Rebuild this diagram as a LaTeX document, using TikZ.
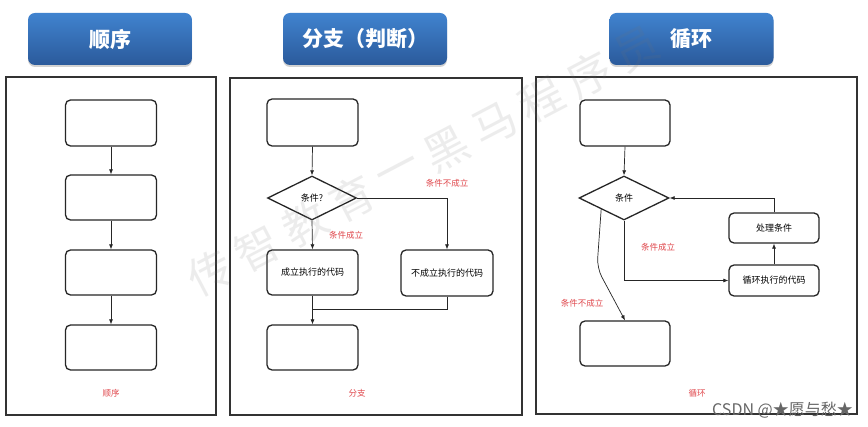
\documentclass[tikz,border=0pt]{standalone}
\usepackage{fontspec}
\setmainfont{Noto Sans CJK SC}
\usetikzlibrary{arrows.meta,shapes.geometric,shadows,calc}
\definecolor{hdrtop}{HTML}{4083CF}
\definecolor{hdrbot}{HTML}{2B5A9B}
\definecolor{lblred}{HTML}{E0474C}
\begin{document}
\begin{tikzpicture}[x=1pt,y=-1pt,
  hdr/.style={rounded corners=7pt, top color=hdrtop, bottom color=hdrbot, draw=none,
    text=white, font=\fontsize{21}{21}\selectfont\bfseries,
    minimum width=164pt, minimum height=52pt,
    drop shadow={shadow xshift=0pt, shadow yshift=-2pt, opacity=0.35}},
  panel/.style={draw=black!80, line width=1.1pt},
  blk/.style={draw=black!85, line width=1.3pt, rounded corners=5pt,
    minimum width=91pt, minimum height=46pt, inner sep=0pt,
    font=\fontsize{9}{9}\selectfont},
  cond/.style={diamond, draw=black!85, line width=1.3pt, aspect=2, inner sep=0pt,
    minimum width=89pt, minimum height=44pt, font=\fontsize{9}{9}\selectfont},
  arr/.style={draw=black!85, line width=0.7pt, -{Latex[length=5pt,width=4pt]}},
  ln/.style={draw=black!85, line width=0.7pt},
  lbl/.style={text=lblred, font=\fontsize{8.5}{8.5}\selectfont, inner sep=0pt},
  wm/.style={text=black!55, opacity=0.13, font=\fontsize{44}{44}\selectfont, inner sep=0pt}
]
\useasboundingbox (0,0) rectangle (868,427);
\fill[white] (0,0) rectangle (868,427);

% headers
\node[hdr] (h1) at (110,39) {顺序};
\node[hdr] (h2) at (365,39) {分支（判断）};
\node[hdr] (h3) at (691.5,39) {循环};

% panels
\draw[panel] (6,77) rectangle (216,415);
\draw[panel] (230,78) rectangle (522,415);
\draw[panel] (536,77) rectangle (857,414);

% ---- panel 1: sequence
\node[blk] (a1) at (111,123) {};
\node[blk, minimum height=45pt] (a2) at (111,197.5) {};
\node[blk, minimum height=45pt] (a3) at (111,272.5) {};
\node[blk, minimum height=45pt] (a4) at (111,347.5) {};
\draw[arr] (a1) -- (a2);
\draw[arr] (a2) -- (a3);
\draw[arr] (a3) -- (a4);
\node[lbl] (l1) at (111,393) {顺序};

% ---- panel 2: branch
\node[blk, minimum height=47pt] (t2) at (312.5,122.5) {};
\node[cond] (d2) at (312,198) {条件?};
\node[blk, minimum height=45pt] (y2) at (312.5,272.5) {成立执行的代码};
\node[blk, minimum width=92pt] (n2) at (447,273) {不成立执行的代码};
\node[blk, minimum height=45pt] (b2) at (312.5,347.5) {};
\coordinate (m2) at (312.5,309);
\draw[arr] (t2.south) -- (d2.north);
\draw[arr] (d2.south) -- (y2.north);
\draw[arr] (d2.east) -| (n2.north);
\draw[arr] (y2.south) -- (b2.north);
\draw[ln] (n2.south) |- (m2);
\node[lbl] (l2a) at (447,183) {条件不成立};
\node[lbl] (l2b) at (346,235) {条件成立};
\node[lbl] (l2c) at (357,393) {分支};

% ---- panel 3: loop
\node[blk, minimum width=90pt] (t3) at (625,123) {};
\node[cond, minimum width=90pt] (d3) at (624,198) {条件};
\node[blk, minimum width=90pt, minimum height=30pt] (p3) at (774,228) {处理条件};
\node[blk, minimum width=90pt, minimum height=31pt] (c3) at (774,280.5) {循环执行的代码};
\node[blk, minimum width=90pt, minimum height=45pt] (b3) at (625,343.5) {};
\coordinate (s3) at ($(d3.west)!0.5!(d3.south)$);
\coordinate (k3) at (597,268);
\draw[arr] (t3.south) -- (d3.north);
\draw[arr] (d3.south) |- (c3.west);
\draw[arr] (c3.north) -- (p3.south);
\draw[arr] (p3.north) |- (d3.east);
\draw[arr, rounded corners=10pt] (s3) -- (k3) -- (b3.north);
\node[lbl] (l3a) at (658,247) {条件成立};
\node[lbl] (l3b) at (582,303) {条件不成立};
\node[lbl] (l3c) at (697,393) {循环};

% credit
\node[text=black!60, font=\fontsize{16}{16}\selectfont, inner sep=0pt, anchor=east] (cr) at (853,410) {CSDN @★愿与愁★};

% watermark
\foreach \c [count=\i from 0] in {传,智,教,育,一,黑,马,程,序,员}
  \node[wm, rotate=27.6] (wm\i) at ({210+47.4*\i},{273-24.8*\i}) {\c};
\end{tikzpicture}
\end{document}
